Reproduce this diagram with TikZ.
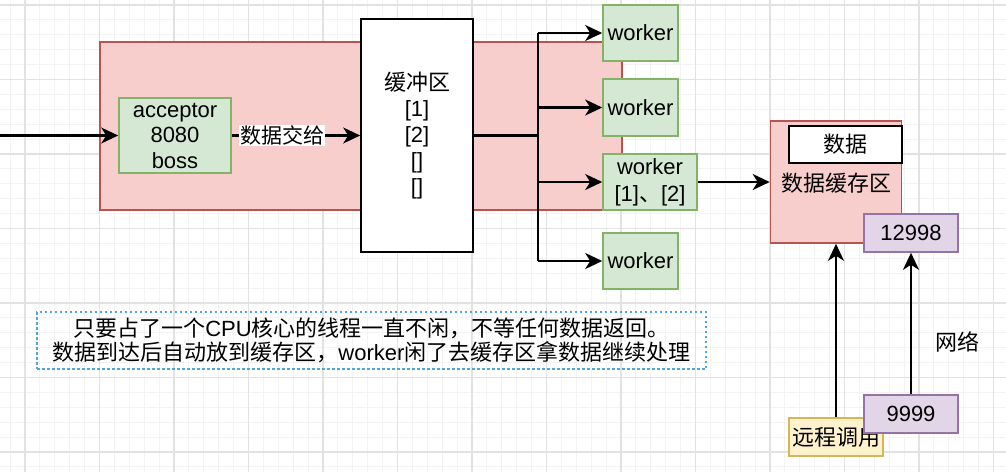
\documentclass[tikz,border=0pt]{standalone}
\usepackage{fontspec}
\setmainfont{Liberation Sans}
\newfontfamily\cjk{Noto Sans CJK SC}
\usetikzlibrary{arrows.meta}
\newcommand\zh[1]{{\cjk #1}}
\definecolor{redfill}{HTML}{F8CECC}
\definecolor{redline}{HTML}{B85450}
\definecolor{greenfill}{HTML}{D5E8D4}
\definecolor{greenline}{HTML}{82B366}
\definecolor{purplefill}{HTML}{E1D5E7}
\definecolor{purpleline}{HTML}{9673A6}
\definecolor{yellowfill}{HTML}{FFF2CC}
\definecolor{yellowline}{HTML}{D6B656}
\definecolor{dashblue}{HTML}{4EA6DC}
\definecolor{gridmajor}{HTML}{E2E2E2}
\definecolor{gridminor}{HTML}{F3F3F3}
\tikzset{
  base/.style={rectangle, inner sep=0pt, line width=1.6pt, align=center,
    font=\fontsize{22}{25.5}\selectfont},
  redbox/.style={base, draw=redline, fill=redfill},
  greenbox/.style={base, draw=greenline, fill=greenfill},
  purplebox/.style={base, draw=purpleline, fill=purplefill},
  yellowbox/.style={base, draw=yellowline, fill=yellowfill},
  whitebox/.style={base, draw=black, fill=white},
  conn/.style={line width=2.2pt, -{Stealth[length=17pt,width=16pt,inset=5pt]}},
  line/.style={line width=2.2pt},
}
\begin{document}
\begin{tikzpicture}[x=1pt,y=-1pt]
\useasboundingbox (0,0) rectangle (1006,472);
\fill[white] (0,0) rectangle (1006,472);
% grid
\foreach \i in {-1,...,66} {\draw[gridminor, line width=0.9pt] (25+14.9*\i,0) -- (25+14.9*\i,472);}
\foreach \i in {0,...,32} {\draw[gridminor, line width=0.9pt] (0,5+14.9*\i) -- (1006,5+14.9*\i);}
\foreach \i in {0,...,13} {\draw[gridmajor, line width=1.4pt] (25+74.5*\i,0) -- (25+74.5*\i,472);}
\foreach \i in {0,...,6} {\draw[gridmajor, line width=1.4pt] (0,5+74.5*\i) -- (1006,5+74.5*\i);}

% main red area
\node[redbox, minimum width=522pt, minimum height=168pt] (area) at (361,126) {};
\node[greenbox, minimum width=112pt, minimum height=75pt] (acc) at (175,135.5) {acceptor\\8080\\boss};
\node[whitebox, minimum width=112pt, minimum height=233pt, font=\fontsize{22}{26}\selectfont] (buf) at (417,135.5)
  {\zh{缓冲区}\\{[}1{]}\\{[}2{]}\\{[}{]}\\{[}{]}};

% workers
\node[greenbox, minimum width=75pt, minimum height=56pt] (w1) at (640.5,33) {worker};
\node[greenbox, minimum width=75pt, minimum height=57pt] (w2) at (640.5,107.5) {worker};
\node[greenbox, minimum width=94pt, minimum height=56pt, font=\fontsize{22}{27}\selectfont] (w3) at (650,182) {worker\\{[}1{]}\zh{、}{[}2{]}};
\node[greenbox, minimum width=75pt, minimum height=56pt] (w4) at (640.5,261) {worker};

% cache
\node[redbox, minimum width=131pt, minimum height=122pt] (cache) at (836,182) {};
\node[whitebox, minimum width=113pt, minimum height=37pt] (data) at (845.5,144.5) {\zh{数据}};
\node[base] (cachelbl) at (836,183) {\zh{数据缓存区}};
\node[purplebox, minimum width=94pt, minimum height=38pt] (p12998) at (911,233) {12998};

% bottom boxes
\node[yellowbox, minimum width=94pt, minimum height=38pt] (rpc) at (836,437) {\zh{远程调用}};
\node[purplebox, minimum width=94pt, minimum height=38pt] (p9999) at (911,414) {9999};
\node[base] (net) at (957,342) {\zh{网络}};

% note
\node[base, draw=dashblue, line width=1.4pt, dash pattern=on 2.5pt off 2.5pt,
  minimum width=669pt, minimum height=57pt, font=\fontsize{22}{24}\selectfont] (note) at (371.5,340.5)
  {\zh{只要占了一个}CPU\zh{核心的线程一直不闲，不等任何数据返回。}\\
   \zh{数据到达后自动放到缓存区，}worker\zh{闲了去缓存区拿数据继续处理}};

% connectors
\coordinate (in) at (0,135.5);
\draw[conn] (in) -- (acc.west);
\draw[conn] (acc.east) -- (buf.west);
\node[base, fill=white, font=\fontsize{21}{24}\selectfont, inner sep=1pt] (lbl) at (282,135.5) {\zh{数据交给}};

\coordinate (split) at (538,135.5);
\draw[line] (buf.east |- split) -- (split);
\coordinate (top) at (538,33);
\coordinate (bot) at (538,261);
\draw[line] (top) -- (bot);
\draw[conn] (top) -- (w1.west);
\draw[conn] (538,107.5) -- (w2.west);
\draw[conn] (538,182) -- (w3.west);
\draw[conn] (bot) -- (w4.west);
\draw[conn] (w3.east) -- (cache.west |- w3.east);

\draw[conn] (rpc.north) -- (cache.south -| rpc.north);
\draw[conn] (p9999.north) -- (p12998.south);
\end{tikzpicture}
\end{document}
